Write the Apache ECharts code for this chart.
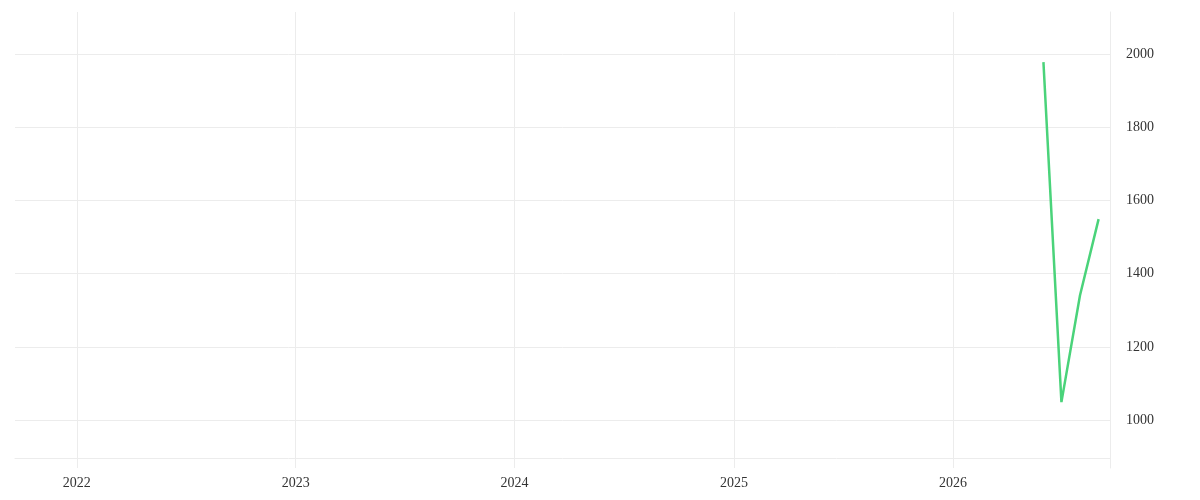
<!DOCTYPE html>
<html style="height: 100%">

<head>
  <meta charset="utf-8" />
  <title>chart</title>
  <script src="https://cdn.jsdelivr.net/npm/echarts@6/dist/echarts.min.js"></script>
</head>

<body style="height: 100%; margin: 0; overflow: hidden; background: #fff">
  <div id="container" style="height: 500px; width: 1200px"></div>
  <script>
    // data
    var dates = ["2026-06-01", "2026-07-01", "2026-08-01", "2026-09-01"];
    var values = [1978, 1049, 1341, 1549];
    var xRange = ["2021-09-20", "2026-09-20"];
    var yRange = [869, 2115];

    var dom = document.getElementById("container");
    var myChart = echarts.init(dom, null, { renderer: "canvas" });
    var YEAR = 365 * 24 * 3600 * 1000;
    var font = "Liberation Serif";
    var gridColor = "#ececec";

    var option = {
      animation: false,
      backgroundColor: "#fff",
      grid: { left: 15, right: 90, top: 12, bottom: 32 },
      xAxis: {
        type: "time",
        min: xRange[0],
        max: xRange[1],
        minInterval: YEAR,
        maxInterval: YEAR,
        offset: -10,
        axisLine: { show: true, lineStyle: { color: gridColor } },
        axisTick: { show: false },
        splitLine: {
          show: true,
          showMinLine: false,
          lineStyle: { color: gridColor },
        },
        axisLabel: {
          formatter: "{yyyy}",
          margin: 18,
          color: "#333",
          fontFamily: font,
          fontSize: 14,
          showMinLabel: false,
          showMaxLabel: false,
        },
      },
      yAxis: {
        type: "value",
        position: "right",
        min: yRange[0],
        max: yRange[1],
        axisLine: { show: true, lineStyle: { color: gridColor } },
        axisTick: { show: false },
        splitLine: {
          show: true,
          showMinLine: false,
          showMaxLine: false,
          lineStyle: { color: gridColor },
        },
        axisLabel: {
          margin: 16,
          color: "#333",
          fontFamily: font,
          fontSize: 14,
          padding: [4, 0, 0, 0],
          formatter: (v) => String(v),
          showMinLabel: false,
          showMaxLabel: false,
        },
      },
      series: [
        {
          type: "line",
          data: dates.map((d, i) => [d, values[i]]),
          showSymbol: false,
          lineStyle: { color: "#4ad37a", width: 2.5 },
          itemStyle: { color: "#4ad37a" },
        },
      ],
    };
    myChart.setOption(option);
  </script>
</body>

</html>
